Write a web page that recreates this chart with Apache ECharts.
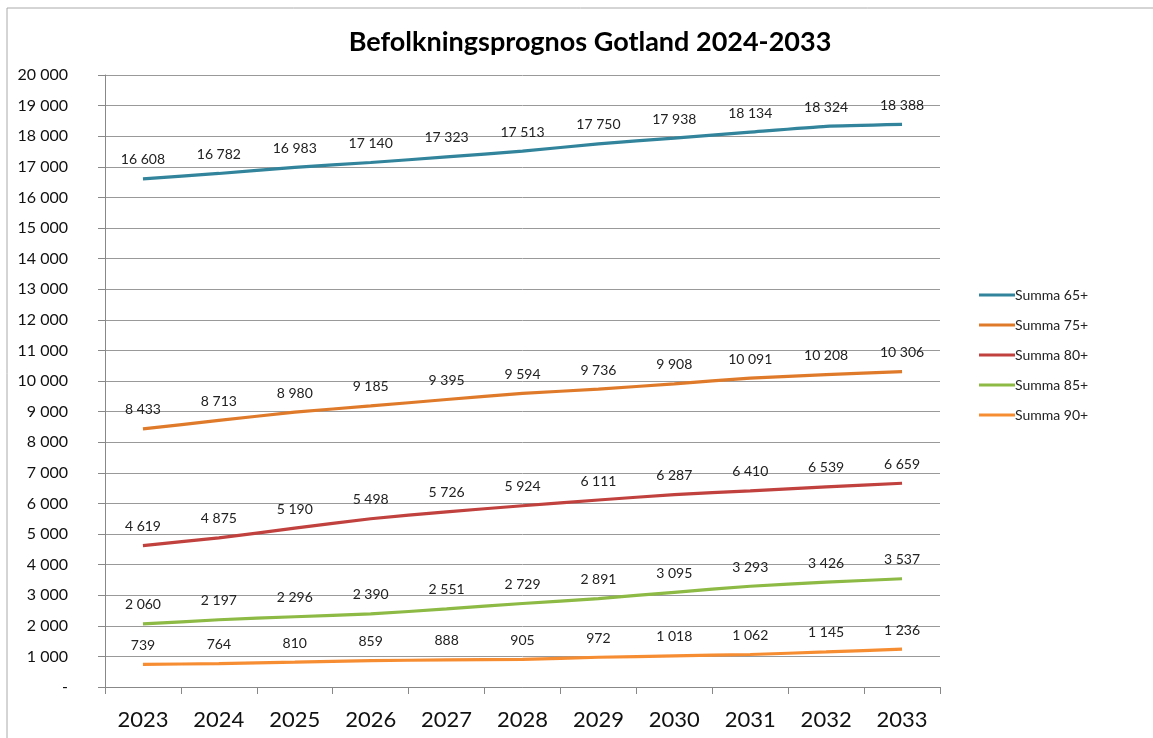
<!DOCTYPE html>
<html><head><meta charset="utf-8">
<script src="https://cdn.jsdelivr.net/npm/echarts@6/dist/echarts.min.js"></script>
<style>html,body{margin:0;padding:0;background:#fff}#c{width:1153px;height:738px}</style>
</head><body><div id="c"></div>
<script>
const years = ['2023','2024','2025','2026','2027','2028','2029','2030','2031','2032','2033'];
const s65 = [16608,16782,16983,17140,17323,17513,17750,17938,18134,18324,18388];
const s75 = [8433,8713,8980,9185,9395,9594,9736,9908,10091,10208,10306];
const s80 = [4619,4875,5190,5498,5726,5924,6111,6287,6410,6539,6659];
const s85 = [2060,2197,2296,2390,2551,2729,2891,3095,3293,3426,3537];
const s90 = [739,764,810,859,888,905,972,1018,1062,1145,1236];
const seriesNames = ['Summa 65+','Summa 75+','Summa 80+','Summa 85+','Summa 90+'];
const colors = ['#31849B','#E07A2B','#C0413E','#8DBA44','#F78D33'];
const FONT = 'Lato';
function fmt(v){ if(v===0) return '-'; return String(v).replace(/\B(?=(\d{3})+(?!\d))/g,' '); }
const chart = echarts.init(document.getElementById('c'));
const datasets = [s65,s75,s80,s85,s90];
chart.setOption({
  animation:false,
  title:{text:'Befolkningsprognos Gotland 2024-2033',left:585,top:24,textAlign:'center',
    textStyle:{fontFamily:FONT,fontSize:27,fontWeight:'bold',color:'#000'}},
  graphic:[{type:'rect',shape:{x:7,y:8,width:1160,height:740},style:{fill:'none',stroke:'#aaa',lineWidth:1}}],
  grid:{left:105,right:213,top:75,bottom:51},
  legend:{orient:'vertical',left:974,top:283,itemGap:16,itemWidth:36,itemHeight:18,
    icon:'path://M0,8 L36,8 L36,11 L0,11 Z',
    textStyle:{fontFamily:FONT,fontSize:14,color:'#222',padding:[0,0,0,-5]},
    data:seriesNames},
  xAxis:{type:'category',data:years,boundaryGap:true,
    axisLine:{lineStyle:{color:'#888'}},
    axisTick:{show:true,length:7,lineStyle:{color:'#888'}},
    axisLabel:{fontFamily:FONT,fontSize:22,color:'#111',margin:22}},
  yAxis:{type:'value',min:0,max:20000,interval:1000,
    axisLine:{show:true,lineStyle:{color:'#888'}},
    axisTick:{show:true,length:7,lineStyle:{color:'#888'}},
    splitLine:{lineStyle:{color:'#999',width:1}},
    axisLabel:{fontFamily:FONT,fontSize:16,color:'#111',margin:37,formatter:fmt}},
  series: datasets.map((d,i)=>({
    name:seriesNames[i],type:'line',data:d,symbol:'circle',symbolSize:0,showSymbol:true,smooth:0.15,
    lineStyle:{width:3.2,color:colors[i]},itemStyle:{color:colors[i]},
    label:{show:true,position:'top',distance:12,fontFamily:FONT,fontSize:14,color:'#222',formatter:p=>fmt(p.value)},
    labelLayout:{hideOverlap:false}
  }))
});
</script></body></html>
